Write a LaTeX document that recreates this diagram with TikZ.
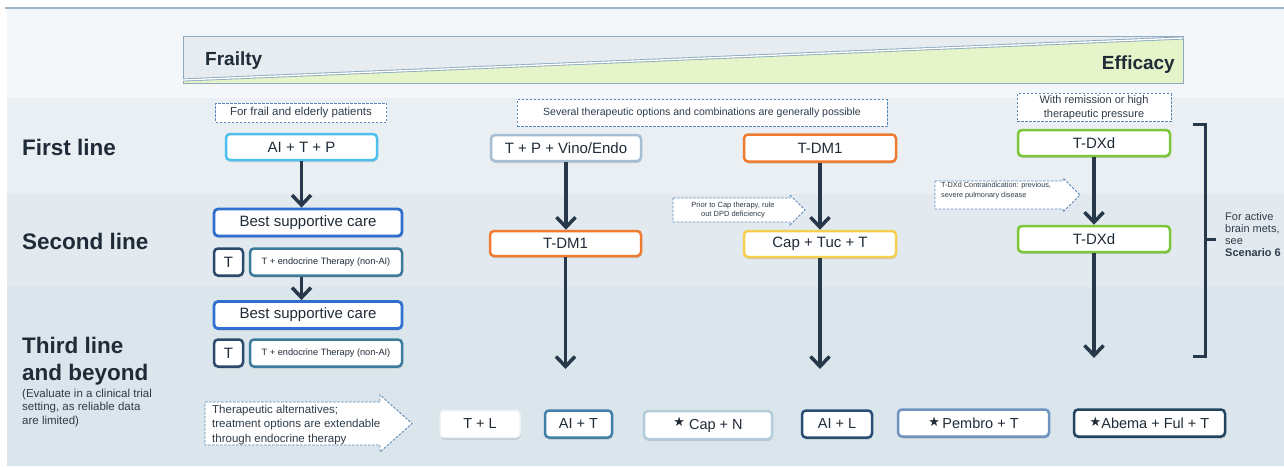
\documentclass[tikz,border=0pt]{standalone}
\usepackage{fontspec}
\setmainfont{Liberation Sans}
\newfontfamily\symfont{DejaVu Sans}
\usetikzlibrary{arrows.meta,shadows}
\definecolor{topbg}{HTML}{F4F7FA}
\definecolor{topline}{HTML}{9DB8CC}
\definecolor{bandA}{HTML}{EAEFF4}
\definecolor{bandB}{HTML}{E2E9EF}
\definecolor{bandC}{HTML}{DAE5EC}
\definecolor{bangrey}{HTML}{E7ECF1}
\definecolor{bangreen}{HTML}{E5F5C9}
\definecolor{banborder}{HTML}{8FAAC0}
\definecolor{txt}{HTML}{1F2B37}
\definecolor{notetxt}{HTML}{2F3C49}
\definecolor{dashblue}{HTML}{5A88B8}
\definecolor{cAITP}{HTML}{4EC0EE}
\definecolor{cBSC}{HTML}{2F6FCF}
\definecolor{cTsmall}{HTML}{2B4A6B}
\definecolor{cTendo}{HTML}{3C7A9C}
\definecolor{cTPV}{HTML}{A6BDD4}
\definecolor{cTDM}{HTML}{EE7B30}
\definecolor{cCAP}{HTML}{F5D050}
\definecolor{cTDX}{HTML}{7CC63A}
\definecolor{cTL}{HTML}{EEF2F5}
\definecolor{cAIT}{HTML}{3F7FA8}
\definecolor{cCAPN}{HTML}{B5CCDA}
\definecolor{cAIL}{HTML}{2A4D73}
\definecolor{cPEM}{HTML}{6F93C0}
\definecolor{cABE}{HTML}{20435E}
\definecolor{arrcol}{HTML}{263849}
\newcommand\fsz[2]{\fontsize{#1pt}{#2pt}\selectfont}
\newcommand\mystar{\raisebox{2.5pt}{\symfont\fsz{13}{13}★}}
\begin{document}
\begin{tikzpicture}[x=1pt,y=-1pt,
  box/.style={draw, rounded corners=4pt, fill=white, line width=2.5pt, inner sep=0pt,
    font=\fsz{15}{18}, text=txt,
    drop shadow={shadow xshift=0.5pt, shadow yshift=-2pt, opacity=0.25, fill=black!60}},
  bbox/.style={box, font=\fsz{14.5}{17}, minimum height=27pt},
  note/.style={draw=dashblue, line width=0.9pt, dash pattern=on 2.5pt off 1.5pt, fill=white,
    inner sep=0pt, text=notetxt},
  dashshape/.style={draw=dashblue, line width=0.9pt, dash pattern=on 2.5pt off 1.5pt, fill=white},
  rowlabel/.style={anchor=base west, inner sep=0pt, font=\bfseries\fsz{22.5}{27}, text=txt, align=left},
  arr/.style={draw=arrcol, line width=3.5pt, -{Straight Barb[length=10pt,width=19pt]}},
]
\useasboundingbox (0,0) rectangle (1284,466);
% backgrounds
\fill[white] (0,0) rectangle (1284,466);
\fill[topbg] (7,8) rectangle (1284,98);
\fill[bandA] (7,98) rectangle (1284,194);
\fill[bandB] (7,194) rectangle (1284,287);
\fill[bandC] (7,287) rectangle (1284,466);
\draw[topline, line width=1.5pt] (5,8) -- (1284,8);
% banner
\fill[bangrey] (183,36) rectangle (1183,83);
\fill[bangreen] (183,80) -- (1183,38) -- (1183,83) -- (183,83) -- cycle;
\draw[banborder, line width=1pt] (183,36) rectangle (1183,83);
\draw[banborder, line width=0.9pt, double=white, double distance=1.3pt] (183,80) -- (1183,38);
\node[anchor=base west, inner sep=0pt, font=\bfseries\fsz{19}{22}, text=txt] (frailty) at (205,65) {Frailty};
\node[anchor=base east, inner sep=0pt, font=\bfseries\fsz{19}{22}, text=txt] (efficacy) at (1175,69) {Efficacy};
% row labels
\node[rowlabel] (l1) at (22,155) {First line};
\node[rowlabel] (l2) at (22,249) {Second line};
\node[rowlabel] (l3) at (22,380) {Third line\\and beyond};
\node[anchor=base west, inner sep=0pt, font=\fsz{11.5}{13.5}, text=notetxt, align=left] (l3b) at (22,424)
  {(Evaluate in a clinical trial\\setting, as reliable data\\are limited)};
% column 1
\node[note, minimum width=171pt, minimum height=19pt, font=\fsz{11.5}{13}] (frail) at (301,112.5) {For frail and elderly patients};
\node[box, draw=cAITP, minimum width=151pt, minimum height=26pt] (aitp) at (301.5,147) {AI + T + P};
\node[box, draw=cBSC, line width=2.8pt, minimum width=188pt, minimum height=27pt] (bsc1) at (308,222.5) {Best supportive care};
\node[box, draw=cTsmall, minimum width=29pt, minimum height=27pt] (t1) at (228.5,262) {T};
\node[box, draw=cTendo, minimum width=152pt, minimum height=27pt, font=\fsz{9.2}{11}] (te1) at (326,262) {T + endocrine Therapy (non-AI)};
\node[box, draw=cBSC, line width=2.8pt, minimum width=188pt, minimum height=27pt] (bsc2) at (308,315) {Best supportive care};
\node[box, draw=cTsmall, minimum width=29pt, minimum height=27pt] (t2) at (228.5,353) {T};
\node[box, draw=cTendo, minimum width=152pt, minimum height=27pt, font=\fsz{9.2}{11}] (te2) at (326,353) {T + endocrine Therapy (non-AI)};
\draw[arr] (aitp.south) -- (aitp.south |- bsc1.north);
\draw[arr] (te1.south -| aitp.south) -- (bsc2.north -| aitp.south);
% therapeutic alternatives arrow note
\draw[dashshape] (205,402) -- (380,402) -- (380,395) -- (412,423.5) -- (380,452) -- (380,445) -- (205,445) -- cycle;
\node[anchor=base west, inner sep=0pt, font=\fsz{11.5}{14.5}, text=notetxt, align=left] (alt) at (212,442)
  {Therapeutic alternatives;\\treatment options are extendable\\through endocrine therapy};
% column 2 and 3
\node[note, minimum width=370pt, minimum height=27pt, font=\fsz{10.5}{12}] (several) at (702,113) {Several therapeutic options and combinations are generally possible};
\node[box, draw=cTPV, minimum width=150pt, minimum height=26pt] (tpv) at (566,148) {T + P + Vino/Endo};
\node[box, draw=cTDM, minimum width=151pt, minimum height=25pt] (tdmB) at (565.5,243.5) {T-DM1};
\node[box, draw=cTDM, minimum width=152pt, minimum height=27pt] (tdmA) at (820,148) {T-DM1};
\node[box, draw=cCAP, minimum width=152pt, minimum height=26pt] (ctt) at (820,244) {Cap + Tuc + T};
\coordinate (e2) at (565.5,369);
\coordinate (e3) at (820,369);
\draw[arr] (tpv.south) -- (tpv.south |- tdmB.north);
\draw[arr] (tdmB.south) -- (e2);
\draw[arr] (tdmA.south) -- (ctt.north);
\draw[arr] (ctt.south) -- (e3);
\draw[dashshape] (673,198) -- (790,198) -- (790,195) -- (805,210) -- (790,225) -- (790,222) -- (673,222) -- cycle;
\node[inner sep=0pt, font=\fsz{7.5}{9.5}, text=notetxt, align=center] (prior) at (733,210) {Prior to Cap therapy, rule\\out DPD deficiency};
% column 4
\node[note, minimum width=154pt, minimum height=28pt, font=\fsz{11}{13.5}, align=center] (remission) at (1094,107.5) {With remission or high\\therapeutic pressure};
\node[box, draw=cTDX, minimum width=152pt, minimum height=26pt] (tdxA) at (1094,143) {T-DXd};
\node[box, draw=cTDX, minimum width=152pt, minimum height=26pt] (tdxB) at (1094,239) {T-DXd};
\coordinate (e4) at (1094,358);
\draw[arr] (tdxA.south) -- (tdxB.north);
\draw[arr] (tdxB.south) -- (e4);
\draw[dashshape] (935,181) -- (1063,181) -- (1063,178) -- (1080,195) -- (1063,212) -- (1063,209) -- (935,209) -- cycle;
\node[anchor=west, inner sep=0pt, font=\fsz{7.3}{10}, text=notetxt, align=left] (contra) at (941,191) {T-DXd Contraindication: previous,\\severe pulmonary disease};
% bracket
\draw[arrcol, line width=3pt] (1193,124) -- (1205,124) -- (1205,356) -- (1193,356);
\draw[arrcol, line width=3pt] (1205,239) -- (1216,239);
\node[anchor=west, inner sep=0pt, font=\fsz{11}{12}, text=notetxt, align=left] (brain) at (1225,235) {For active\\brain mets,\\see\\\textbf{Scenario 6}};
% bottom row
\node[bbox, draw=cTL, line width=1.5pt, minimum width=80pt] (tl) at (480,424) {T + L};
\node[bbox, draw=cAIT, minimum width=67pt] (ait) at (578.5,424) {AI + T};
\node[bbox, draw=cCAPN, minimum width=128pt, minimum height=28pt] (capn) at (708,425) {\mystar\ Cap + N};
\node[bbox, draw=cAIL, minimum width=70pt] (ail) at (837,424) {AI + L};
\node[bbox, draw=cPEM, minimum width=151pt] (pem) at (973.5,423) {\mystar\,Pembro + T};
\node[bbox, draw=cABE, minimum width=151pt] (abe) at (1149.5,423) {\mystar Abema + Ful + T};
\end{tikzpicture}
\end{document}
